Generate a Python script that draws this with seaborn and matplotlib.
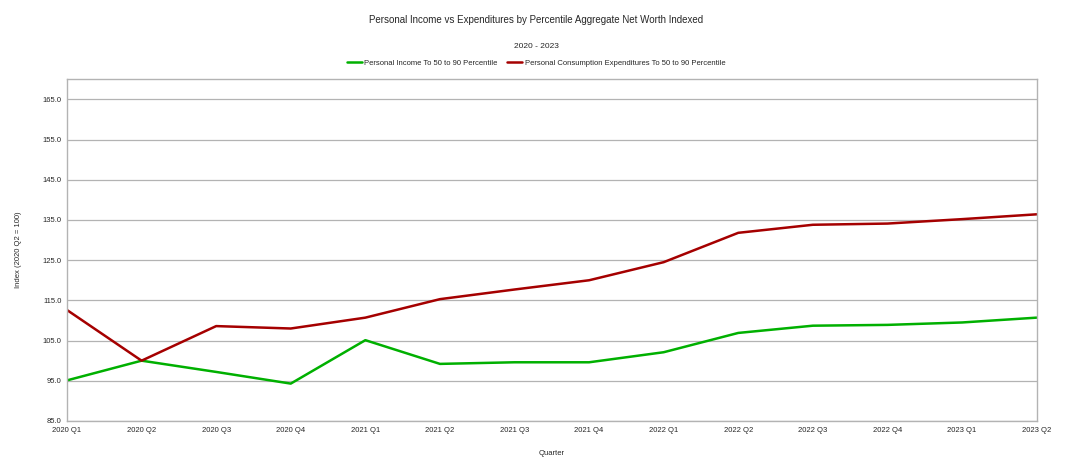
import seaborn as sns
import matplotlib.pyplot as plt
import pandas as pd

quarters = ['2020 Q1', '2020 Q2', '2020 Q3', '2020 Q4',
            '2021 Q1', '2021 Q2', '2021 Q3', '2021 Q4',
            '2022 Q1', '2022 Q2', '2022 Q3', '2022 Q4',
            '2023 Q1', '2023 Q2']
income = [95.1, 100.0, 97.2, 94.3, 105.1, 99.2, 99.6, 99.6,
          102.1, 106.9, 108.7, 108.9, 109.5, 110.7]
expenditures = [112.6, 100.0, 108.6, 108.0, 110.7, 115.3, 117.7, 120.0,
                124.5, 131.8, 133.8, 134.1, 135.2, 136.4]
series_names = ['Personal Income To 50 to 90 Percentile',
                'Personal Consumption Expenditures To 50 to 90 Percentile']
yticks = [85, 95, 105, 115, 125, 135, 145, 155, 165]

df = pd.DataFrame({'Quarter': quarters * 2,
                   'Index': income + expenditures,
                   'Series': [series_names[0]] * len(quarters) + [series_names[1]] * len(quarters)})
df['pos'] = df['Quarter'].map({q: i for i, q in enumerate(quarters)})

sns.set_style('white')
plt.rcParams['font.family'] = ['Liberation Sans', 'DejaVu Sans']

fig = plt.figure(figsize=(10.72, 4.66), dpi=100)
ax = fig.add_axes([0.0625, 0.0966, 0.9045, 0.7334])

sns.lineplot(data=df, x='pos', y='Index', hue='Series',
             palette={series_names[0]: '#00b000', series_names[1]: '#a50000'},
             linewidth=1.8, ax=ax, legend=False)

ax.set_xlim(0, len(quarters) - 1)
ax.set_ylim(85, 170)
ax.set_xticks(range(len(quarters)))
ax.set_xticklabels(quarters, fontsize=5.5)
ax.set_yticks(yticks)
ax.set_yticklabels([f'{v:.1f}' for v in yticks], fontsize=5.5)
ax.grid(axis='y', color='#b3b3b3', linewidth=0.9)
ax.set_axisbelow(True)
for s in ax.spines.values():
    s.set_color('#b3b3b3')
    s.set_linewidth(1.0)
ax.tick_params(axis='both', length=3, width=0.8, color='#b3b3b3', pad=1)

ax.set_xlabel('Quarter', fontsize=5.5, labelpad=12)
ax.set_ylabel('Index (2020 Q2 = 100)', fontsize=5.5, labelpad=15)

fig.text(0.5, 0.957, 'Personal Income vs Expenditures by Percentile Aggregate Net Worth Indexed',
         ha='center', va='center', fontsize=7)
fig.text(0.5, 0.901, '2020 - 2023', ha='center', va='center', fontsize=6)

handles = [plt.Line2D([], [], color='#00b000', linewidth=1.8),
           plt.Line2D([], [], color='#a50000', linewidth=1.8)]
fig.legend(handles, series_names, loc='center', bbox_to_anchor=(0.5, 0.865), ncol=2,
           frameon=False, fontsize=5.5, handlelength=2.0, handletextpad=0.3, columnspacing=1.2)

plt.savefig('out.png', dpi=100)
